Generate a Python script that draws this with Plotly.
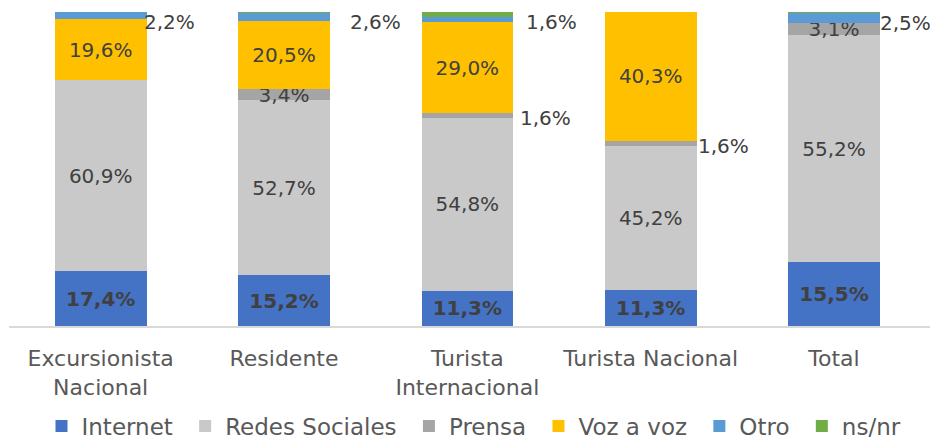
import plotly.graph_objects as go

categories = ["Excursionista<br>Nacional", "Residente", "Turista<br>Internacional", "Turista Nacional", "Total"]
series_names = ["Internet", "Redes Sociales", "Prensa", "Voz a voz", "Otro", "ns/nr"]
internet = [17.4, 15.2, 11.3, 11.3, 15.5]
redes_sociales = [60.9, 52.7, 54.8, 45.2, 55.2]
prensa = [0.0, 3.4, 1.6, 1.6, 3.1]
voz_a_voz = [19.6, 20.5, 29.0, 40.3, 0.0]
otro = [2.2, 2.6, 1.6, 0.0, 2.5]
ns_nr = [0.0, 0.1, 1.7, 0.0, 0.1]

values = [internet, redes_sociales, prensa, voz_a_voz, otro, ns_nr]
colors = ["#4472C4", "#C9C9C9", "#A5A5A5", "#FFC000", "#5B9BD5", "#70AD47"]

# which labels are drawn inside the segment
inside = [
    [True] * 5,
    [True] * 5,
    [False, True, False, False, True],
    [True, True, True, True, False],
    [False] * 5,
    [False] * 5,
]
# labels drawn outside, to the right of the bar: (series index, category index, xshift, yshift)
outside = [
    (4, 0, 41, -7),
    (4, 1, 64, -5),
    (4, 2, 57, -2),
    (2, 2, 51, -2),
    (2, 3, 45, -3),
    (4, 4, 44, -5),
]

FONT = "DejaVu Sans"

def fmt(v):
    return f"{v:.1f}%".replace(".", ",")

fig = go.Figure()
for i, (name, vals, col) in enumerate(zip(series_names, values, colors)):
    texts = [(("<b>%s</b>" % fmt(v)) if i == 0 else fmt(v)) if (inside[i][j] and v > 0) else ""
             for j, v in enumerate(vals)]
    fig.add_trace(go.Bar(
        name=name + "\u00a0", x=categories, y=vals, marker=dict(color=col, line=dict(width=0)),
        text=texts, texttemplate="%{text}", textposition="inside",
        insidetextanchor="middle", textangle=0,
        insidetextfont=dict(color="#404040", size=20, family=FONT),
        hoverinfo="skip",
    ))

totals = [sum(v[j] for v in values) for j in range(len(categories))]
for (si, ci, xs, ys) in outside:
    v = values[si][ci]
    below = sum(values[k][ci] for k in range(si))
    mid = (below + v / 2) / totals[ci] * 100
    fig.add_annotation(x=categories[ci], y=mid, text=fmt(v), showarrow=False,
                       xanchor="left", yanchor="middle", xshift=xs, yshift=ys,
                       font=dict(color="#404040", size=20, family=FONT))

fig.update_layout(
    width=938, height=440, autosize=False,
    barmode="stack", barnorm="percent", bargap=0.5,
    margin=dict(l=1, r=13, t=4, b=122, autoexpand=False),
    paper_bgcolor="white", plot_bgcolor="white",
    font=dict(family=FONT, color="#595959", size=22),
    uniformtext=dict(mode="show", minsize=20),
    showlegend=True,
    legend=dict(orientation="h", xref="container", yref="container",
                x=0.5, xanchor="center", y=0.05, yanchor="middle",
                font=dict(size=23, color="#595959"), traceorder="normal", itemwidth=30),
    xaxis=dict(showline=True, linecolor="#D9D9D9", linewidth=1.5, ticks="",
               tickfont=dict(size=22, color="#595959"), ticklabelstandoff=12, automargin=False),
    yaxis=dict(visible=False, range=[0, 100], automargin=False),
)

fig.write_html("out.html", config={"responsive": False})
